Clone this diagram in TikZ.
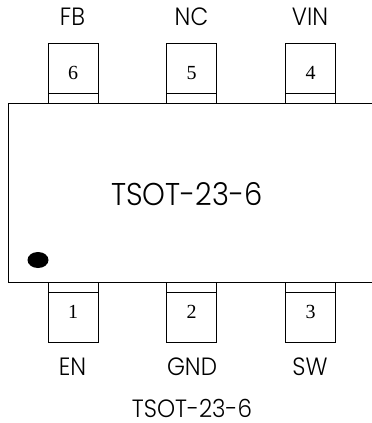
\documentclass[tikz,border=0pt]{standalone}
\usepackage{fontspec}
\setmainfont{Poppins}[UprightFont=* Light,FakeStretch=0.92]
\newfontfamily\pinfont{Liberation Serif}
\tikzset{
  pinbox/.style={draw, line width=0.7, minimum width=50, minimum height=60, inner sep=0, font=\pinfont\fontsize{20pt}{20pt}\selectfont},
  stripbox/.style={draw, line width=0.7, minimum width=50, minimum height=10, inner sep=0},
  pinlabel/.style={inner sep=0, font=\fontsize{25pt}{25pt}\selectfont},
}
\begin{document}
\begin{tikzpicture}[x=1pt,y=-1pt]
            \useasboundingbox (0,0) rectangle (372,423);
            % package body
            \draw [line width=0.7, black] (372,103) -- (8,103) -- (8,282) -- (372,282);
            \node [inner sep=0,font=\fontsize{31.5pt}{31.5pt}\selectfont] (bodylabel) at (187,194) {TSOT-23-6};
            % pin one mark
            \fill [black] (38,260) ellipse (10.5 and 8);
            % top pins
            \node [pinbox] (pin6) at (73,73) {6};
            \node [stripbox] (strip6) at (73,98) {};
            \node [pinbox] (pin5) at (191.5,73) {5};
            \node [stripbox] (strip5) at (191.5,98) {};
            \node [pinbox] (pin4) at (310.5,73) {4};
            \node [stripbox] (strip4) at (310.5,98) {};
            % bottom pins
            \node [pinbox] (pin1) at (73,312) {1};
            \node [stripbox] (strip1) at (73,287) {};
            \node [pinbox] (pin2) at (191.5,312) {2};
            \node [stripbox] (strip2) at (191.5,287) {};
            \node [pinbox] (pin3) at (310.5,312) {3};
            \node [stripbox] (strip3) at (310.5,287) {};
            % pin names
            \node [pinlabel] (name6) at (72.5,17) {FB};
            \node [pinlabel] (name5) at (191.5,17) {NC};
            \node [pinlabel] (name4) at (310,17) {VIN};
            \node [pinlabel] (name1) at (72.5,367) {EN};
            \node [pinlabel] (name2) at (192,367) {GND};
            \node [pinlabel] (name3) at (310,367) {SW};
            % caption
            \node [pinlabel] (caption) at (192,408) {TSOT-23-6};
\end{tikzpicture}
\end{document}
